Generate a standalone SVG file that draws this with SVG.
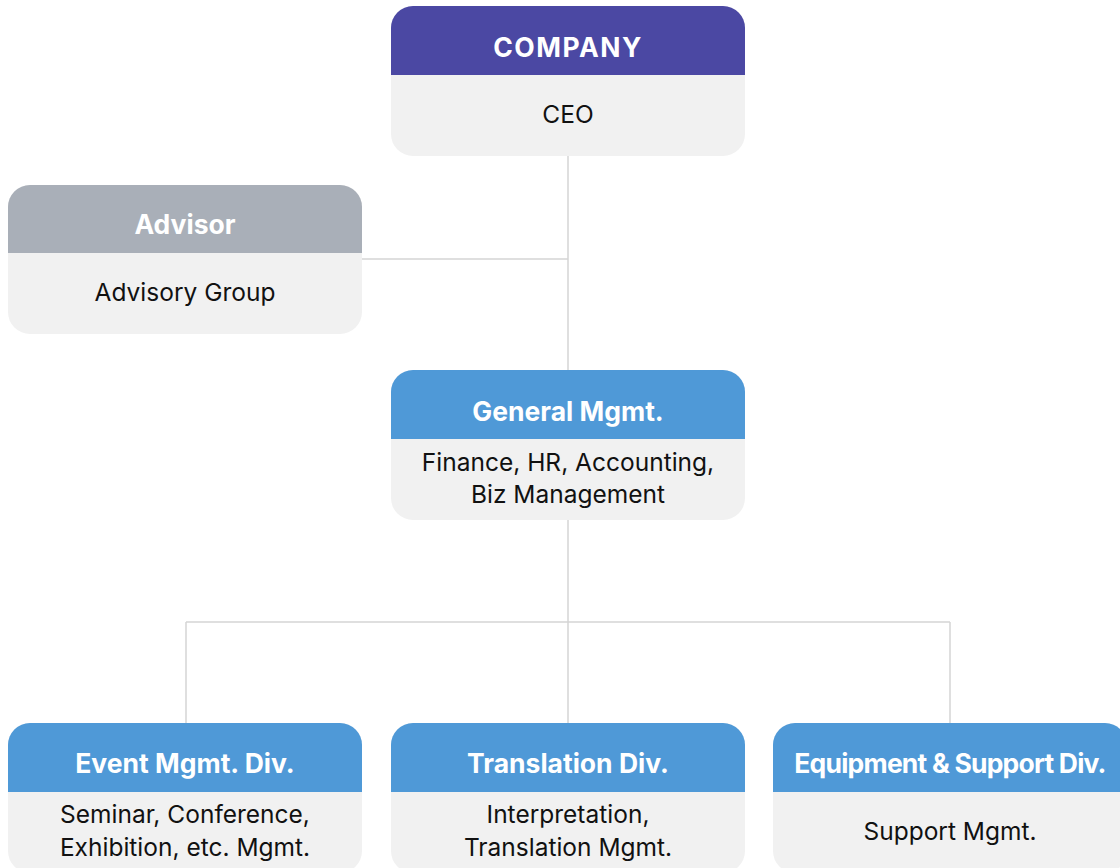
<svg xmlns="http://www.w3.org/2000/svg" width="1120" height="868" viewBox="0 0 1120 868">
<style>
.body{fill:#f1f1f1}
.hd-co{fill:#4b48a3}
.hd-adv{fill:#a9afb8}
.hd-blue{fill:#4f99d7}
.ht{font-family:Inter,"Liberation Sans",sans-serif;font-weight:700;font-size:26.5px;fill:#ffffff;text-anchor:middle}
.bt{font-family:Inter,"Liberation Sans",sans-serif;font-size:24.5px;fill:#111111;text-anchor:middle}
.conn{fill:none;stroke:#d4d4d4;stroke-width:1.5}
</style>
<rect width="1120" height="868" fill="#ffffff"/>
<g id="connectors">
<path class="conn" d="M568 156V370"/>
<path class="conn" d="M362 259H568"/>
<path class="conn" d="M568 520V723"/>
<path class="conn" d="M186 622H950"/>
<path class="conn" d="M186 622V723"/>
<path class="conn" d="M950 622V723"/>
</g>
<g id="company">
<rect class="body" x="391" y="6" width="354" height="150" rx="22"/>
<path class="hd-co" d="M391 75V28A22 22 0 0 1 413 6H723A22 22 0 0 1 745 28V75Z"/>
<text class="ht" x="568" y="57" font-size="28" letter-spacing="1.5">COMPANY</text>
<text class="bt" x="568" y="123">CEO</text>
</g>
<g id="advisor">
<rect class="body" x="8" y="185" width="354" height="149" rx="22"/>
<path class="hd-adv" d="M8 253V207A22 22 0 0 1 30 185H340A22 22 0 0 1 362 207V253Z"/>
<text class="ht" x="185" y="234">Advisor</text>
<text class="bt" x="185" y="301">Advisory Group</text>
</g>
<g id="general">
<rect class="body" x="391" y="370" width="354" height="150" rx="22"/>
<path class="hd-blue" d="M391 439V392A22 22 0 0 1 413 370H723A22 22 0 0 1 745 392V439Z"/>
<text class="ht" x="568" y="421">General Mgmt.</text>
<text class="bt" x="568" y="471">Finance, HR, Accounting,</text>
<text class="bt" x="568" y="503">Biz Management</text>
</g>
<g id="event">
<rect class="body" x="8" y="723" width="354" height="150" rx="22"/>
<path class="hd-blue" d="M8 792V745A22 22 0 0 1 30 723H340A22 22 0 0 1 362 745V792Z"/>
<text class="ht" x="185" y="773">Event Mgmt. Div.</text>
<text class="bt" x="185" y="823">Seminar, Conference,</text>
<text class="bt" x="185" y="856">Exhibition, etc. Mgmt.</text>
</g>
<g id="translation">
<rect class="body" x="391" y="723" width="354" height="150" rx="22"/>
<path class="hd-blue" d="M391 792V745A22 22 0 0 1 413 723H723A22 22 0 0 1 745 745V792Z"/>
<text class="ht" x="568" y="773">Translation Div.</text>
<text class="bt" x="568" y="823">Interpretation,</text>
<text class="bt" x="568" y="856">Translation Mgmt.</text>
</g>
<g id="equipment">
<rect class="body" x="773" y="723" width="354" height="150" rx="22"/>
<path class="hd-blue" d="M773 792V745A22 22 0 0 1 795 723H1105A22 22 0 0 1 1127 745V792Z"/>
<text class="ht" x="950" y="773" letter-spacing="-0.8">Equipment &amp; Support Div.</text>
<text class="bt" x="950" y="840">Support Mgmt.</text>
</g>
</svg>
